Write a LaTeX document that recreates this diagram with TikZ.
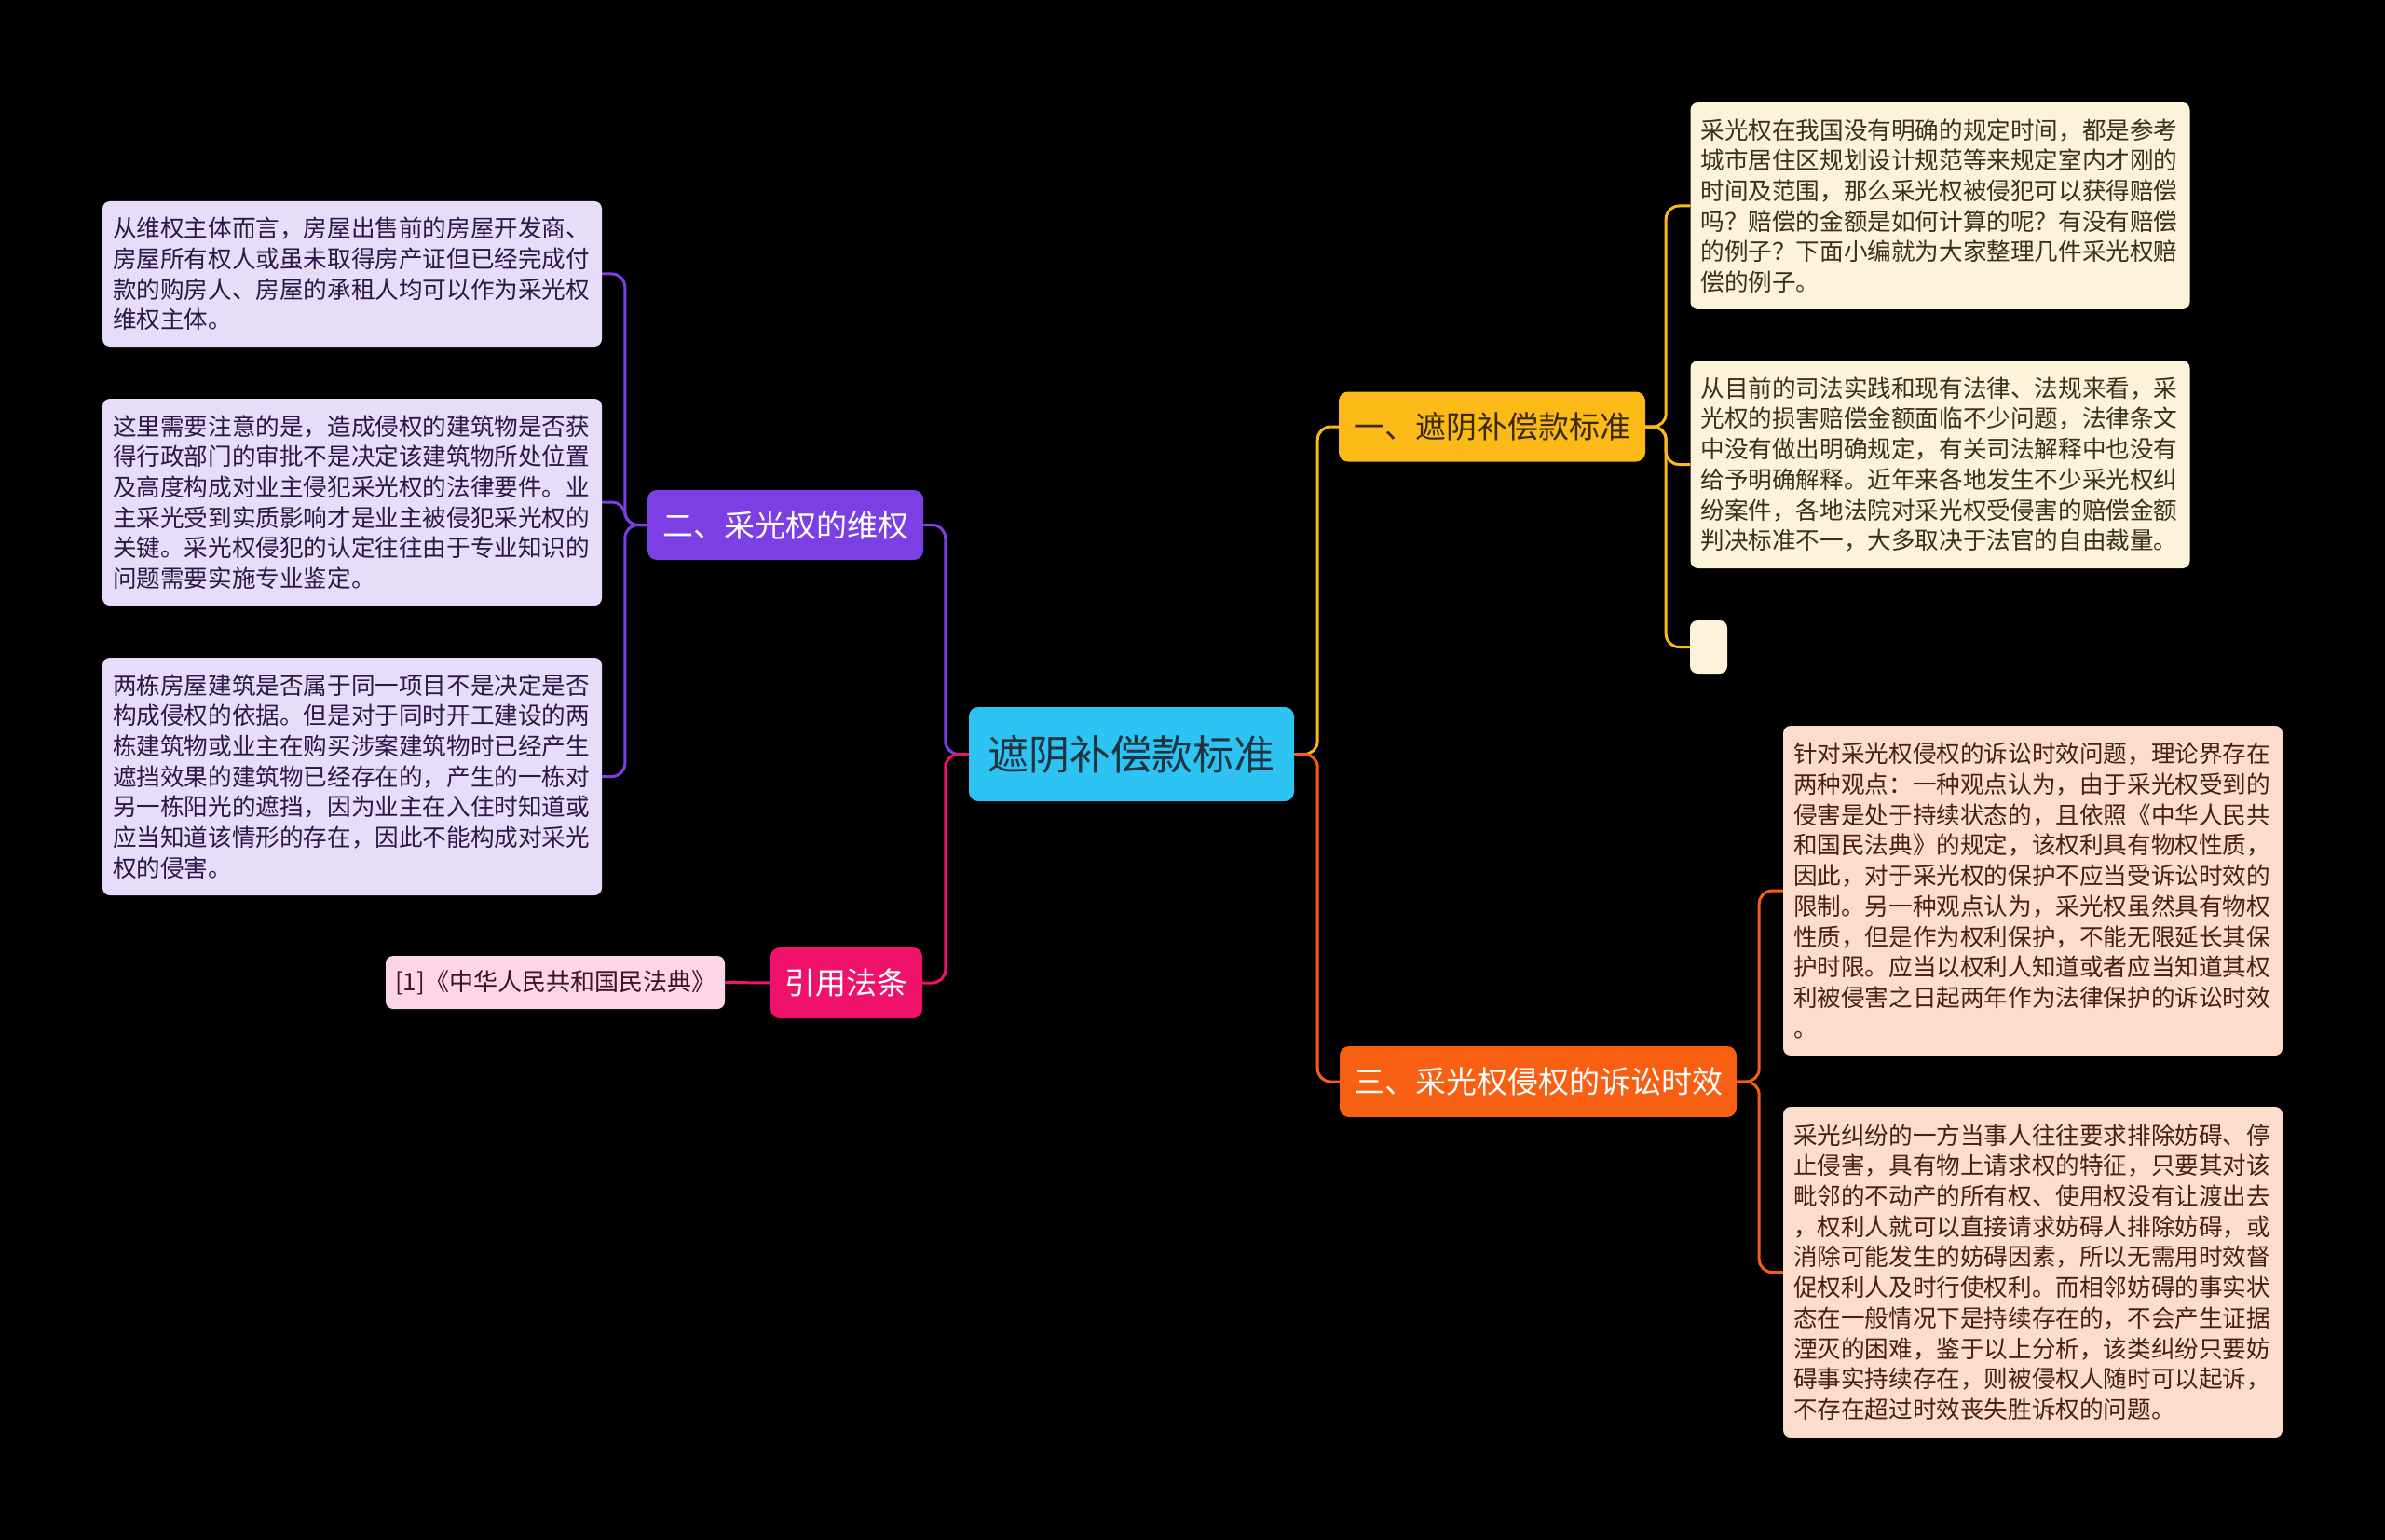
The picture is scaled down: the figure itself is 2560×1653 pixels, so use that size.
\documentclass[tikz,border=0pt]{standalone}
\usepackage{fontspec}
\setmainfont{Noto Sans CJK SC}
\definecolor{bgc}{HTML}{000000}
\definecolor{rootc}{HTML}{2DC3F2}
\definecolor{roottxt}{HTML}{1F3440}
\definecolor{yelc}{HTML}{FBBA18}
\definecolor{yeltxt}{HTML}{3A2A05}
\definecolor{purc}{HTML}{7B3FE4}
\definecolor{orac}{HTML}{F75F12}
\definecolor{pinkc}{HTML}{F0116B}
\definecolor{lavfill}{HTML}{E7DDFA}
\definecolor{lavtxt}{HTML}{2A1848}
\definecolor{creamfill}{HTML}{FDF3D8}
\definecolor{creamtxt}{HTML}{3B3018}
\definecolor{peachfill}{HTML}{FCDDCB}
\definecolor{peachtxt}{HTML}{47200F}
\definecolor{lpinkfill}{HTML}{FCD6E6}
\definecolor{lpinktxt}{HTML}{3A1424}
\begin{document}
\begin{tikzpicture}[x=1pt,y=-1pt,
  rootbox/.style={fill=rootc, rounded corners=10pt, inner sep=0pt, minimum width=349pt, minimum height=101pt, text=roottxt, font=\fontsize{44pt}{50pt}\selectfont},
  brbox/.style={rounded corners=10pt, inner sep=0pt, font=\fontsize{33pt}{38pt}\selectfont},
  leafbox/.style={rounded corners=8pt, text width=514pt, inner xsep=11pt, inner ysep=0pt, align=left, font=\fontsize{25.6pt}{32.7pt}\selectfont},
  lav/.style={leafbox, fill=lavfill, text=lavtxt},
  cream/.style={leafbox, fill=creamfill, text=creamtxt},
  peach/.style={leafbox, fill=peachfill, text=peachtxt},
  conn/.style={line width=3pt, rounded corners=14pt}
]
\fill[bgc] (0,0) rectangle (2560,1653);
\useasboundingbox (0,0) rectangle (2560,1653);

% root
\node[rootbox] (root) at (1214.5,809.5) {遮阴补偿款标准};

% branches
\node[brbox, fill=yelc, text=yeltxt, minimum width=329pt, minimum height=75pt] (b1) at (1601.5,458) {一、遮阴补偿款标准};
\node[brbox, fill=purc, text=white, minimum width=296pt, minimum height=75pt] (b2) at (843,563.5) {二、采光权的维权};
\node[brbox, fill=orac, text=white, minimum width=426pt, minimum height=76pt] (b3) at (1651,1161) {三、采光权侵权的诉讼时效};
\node[brbox, fill=pinkc, text=white, minimum width=163pt, minimum height=76pt] (cite) at (908.5,1055) {引用法条};

% cite leaf
\node[rounded corners=8pt, inner sep=0pt, fill=lpinkfill, text=lpinktxt, minimum width=364pt, minimum height=57pt, font=\fontsize{26pt}{30pt}\selectfont] (lf) at (596,1054.5) {[1]《中华人民共和国民法典》};

% left leaves
\node[lav, minimum height=156pt] (L1) at (378,294) {从维权主体而言，房屋出售前的房屋开发商、\\房屋所有权人或虽未取得房产证但已经完成付\\款的购房人、房屋的承租人均可以作为采光权\\维权主体。};
\node[lav, minimum height=222pt] (L2) at (378,539) {这里需要注意的是，造成侵权的建筑物是否获\\得行政部门的审批不是决定该建筑物所处位置\\及高度构成对业主侵犯采光权的法律要件。业\\主采光受到实质影响才是业主被侵犯采光权的\\关键。采光权侵犯的认定往往由于专业知识的\\问题需要实施专业鉴定。};
\node[lav, minimum height=255pt] (L3) at (378,833.5) {两栋房屋建筑是否属于同一项目不是决定是否\\构成侵权的依据。但是对于同时开工建设的两\\栋建筑物或业主在购买涉案建筑物时已经产生\\遮挡效果的建筑物已经存在的，产生的一栋对\\另一栋阳光的遮挡，因为业主在入住时知道或\\应当知道该情形的存在，因此不能构成对采光\\权的侵害。};

% right top leaves
\node[cream, minimum height=222pt] (R1) at (2082.5,221) {采光权在我国没有明确的规定时间，都是参考\\城市居住区规划设计规范等来规定室内才刚的\\时间及范围，那么采光权被侵犯可以获得赔偿\\吗？赔偿的金额是如何计算的呢？有没有赔偿\\的例子？下面小编就为大家整理几件采光权赔\\偿的例子。};
\node[cream, minimum height=223pt] (R2) at (2082.5,498.5) {从目前的司法实践和现有法律、法规来看，采\\光权的损害赔偿金额面临不少问题，法律条文\\中没有做出明确规定，有关司法解释中也没有\\给予明确解释。近年来各地发生不少采光权纠\\纷案件，各地法院对采光权受侵害的赔偿金额\\判决标准不一，大多取决于法官的自由裁量。};
\node[rounded corners=8pt, inner sep=0pt, fill=creamfill, minimum width=40pt, minimum height=57pt] (R3) at (1834,694.5) {};

% right bottom leaves
\node[peach, minimum height=354pt] (R4) at (2182,956) {针对采光权侵权的诉讼时效问题，理论界存在\\两种观点：一种观点认为，由于采光权受到的\\侵害是处于持续状态的，且依照《中华人民共\\和国民法典》的规定，该权利具有物权性质，\\因此，对于采光权的保护不应当受诉讼时效的\\限制。另一种观点认为，采光权虽然具有物权\\性质，但是作为权利保护，不能无限延长其保\\护时限。应当以权利人知道或者应当知道其权\\利被侵害之日起两年作为法律保护的诉讼时效\\。};
\node[peach, minimum height=355pt] (R5) at (2182,1365.5) {采光纠纷的一方当事人往往要求排除妨碍、停\\止侵害，具有物上请求权的特征，只要其对该\\毗邻的不动产的所有权、使用权没有让渡出去\\，权利人就可以直接请求妨碍人排除妨碍，或\\消除可能发生的妨碍因素，所以无需用时效督\\促权利人及时行使权利。而相邻妨碍的事实状\\态在一般情况下是持续存在的，不会产生证据\\湮灭的困难，鉴于以上分析，该类纠纷只要妨\\碍事实持续存在，则被侵权人随时可以起诉，\\不存在超过时效丧失胜诉权的问题。};

% connectors: root to branches
\draw[conn, purc] (root.west) -- ++(-25,0) |- (b2.east);
\draw[conn, pinkc] (root.west) -- ++(-25,0) |- (cite.east);
\draw[conn, yelc] (root.east) -- ++(25,0) |- (b1.west);
\draw[conn, orac] (root.east) -- ++(25,0) |- (b3.west);

% branch 2 to leaves
\draw[conn, purc] (b2.west) -- ++(-24,0) |- (L1.east);
\draw[conn, purc] (b2.west) -- ++(-24,0) |- (L2.east);
\draw[conn, purc] (b2.west) -- ++(-24,0) |- (L3.east);

% branch 1 to leaves
\draw[conn, yelc] (b1.east) -- ++(22,0) |- (R1.west);
\draw[conn, yelc] (b1.east) -- ++(22,0) |- (R2.west);
\draw[conn, yelc] (b1.east) -- ++(22,0) |- (R3.west);

% branch 3 to leaves
\draw[conn, orac] (b3.east) -- ++(24,0) |- (R4.west);
\draw[conn, orac] (b3.east) -- ++(24,0) |- (R5.west);

% cite to its leaf
\draw[conn, pinkc] (cite.west) -- (lf.east);
\end{tikzpicture}
\end{document}
